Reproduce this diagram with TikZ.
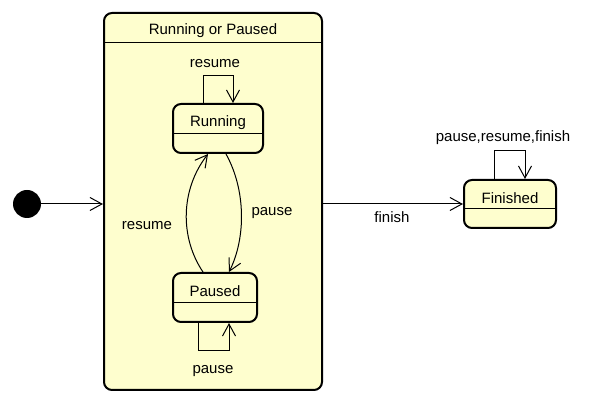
\documentclass[tikz,border=0pt]{standalone}
\usepackage{fontspec}
\setmainfont{Liberation Sans}
\usetikzlibrary{arrows.meta}

\definecolor{statefill}{HTML}{FEFECE}

\begin{document}
\begin{tikzpicture}[x = 1pt, y = 1pt, > = {Straight Barb[length = 12pt, width = 13pt]},
	state/.style = {draw, line width = 2pt, fill = statefill, rounded corners = 8pt, inner sep = 0pt},
	txt/.style = {font = \fontsize{15}{18}\selectfont, inner sep = 0pt},
	edge/.style = {->, line width = 1pt}]

	% Definitions
	
	\def\hdr{31pt}		% Distance from top of state to divider
	\def\ttl{19.5pt}	% Distance from top of state to its name
	
	% Bounding box
	
	\useasboundingbox (0, 0) rectangle (600, 404);
	
	% Initial state
	
	\node [circle, fill = black, minimum size = 28pt, inner sep = 0pt] (init) at (27, 200) {};
	
	% Composite state
	
	\node [state, minimum width = 218pt, minimum height = 377pt] (composite) at (213, 202.5) {};
	\draw [line width = 1pt] ([yshift = -\hdr]composite.north west) -- ([yshift = -\hdr]composite.north east);
	\node [txt] (composite-name) at ([yshift = -19pt]composite.north) {Running or Paused};
	
	% Running
	
	\node [state, minimum width = 90pt, minimum height = 49pt] (running) at (218, 275.5) {};
	\draw [line width = 1pt] ([yshift = -\hdr]running.north west) -- ([yshift = -\hdr]running.north east);
	\node [txt] (running-name) at ([yshift = -\ttl]running.north) {Running};
	
	% Paused
	
	\node [state, minimum width = 84pt, minimum height = 49pt] (paused) at (215, 106.5) {};
	\draw [line width = 1pt] ([yshift = -\hdr]paused.north west) -- ([yshift = -\hdr]paused.north east);
	\node [txt] (paused-name) at ([yshift = -\ttl]paused.north) {Paused};
	
	% Finished
	
	\node [state, minimum width = 92pt, minimum height = 48pt] (finished) at (510, 200) {};
	\draw [line width = 1pt] ([yshift = -30pt]finished.north west) -- ([yshift = -30pt]finished.north east);
	\node [txt] (finished-name) at ([yshift = -\ttl]finished.north) {Finished};
	
	% Transitions
	
	\draw [edge] (init) -- (init -| composite.west);
	
	\draw [edge] ([xshift = -15pt]running.north) -- ++(0, 27) -| ([xshift = 15pt]running.north);
	\node [txt] (resume-self) at (215, 340.5) {resume};
	
	\draw [edge] ([xshift = -17pt]paused.south) -- ++(0, -28) -| ([xshift = 14pt]paused.south);
	\node [txt] (pause-self) at (213, 32.5) {pause};
	
	\draw [edge] ([xshift = 8pt]running.south) .. controls +(20, -36) and +(17, 34) .. ([xshift = 14pt]paused.north);
	\node [txt] (pause-down) at (272, 190.5) {pause};
	
	\draw [edge] ([xshift = -12pt]paused.north) .. controls +(-23, 34) and +(-28, -36) .. ([xshift = -10pt]running.south);
	\node [txt] (resume-up) at (147, 178.5) {resume};
	
	\draw [edge] (composite.east |- finished) -- (finished);
	\node [txt] (finish-out) at (392, 186.5) {finish};
	
	\draw [edge] ([xshift = -16pt]finished.north) -- ++(0, 28) -| ([xshift = 15pt]finished.north);
	\node [txt] (finished-self) at (503, 266.5) {pause,resume,finish};

\end{tikzpicture}
\end{document}
